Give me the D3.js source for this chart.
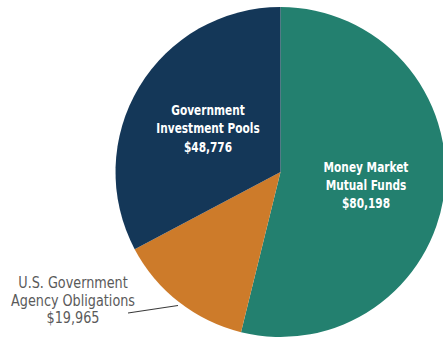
<!DOCTYPE html>
<html>
<head>
<meta charset="utf-8">
<script src="https://cdn.jsdelivr.net/npm/d3@7"></script>
<style>
  html, body { margin: 0; padding: 0; background: #fff; overflow: hidden; }
  svg { display: block; }
</style>
</head>
<body>
<svg id="chart" width="443" height="339"></svg>
<script>
// Holdings by category (in thousands of dollars)
const categories = ["Money Market Mutual Funds", "U.S. Government Agency Obligations", "Government Investment Pools"];
const values = [80198, 19965, 48776];
const colors = ["#23806f", "#cd7b2a", "#143758"];
const labelLines = [
  ["Money Market", "Mutual Funds", "$80,198"],
  ["U.S. Government", "Agency Obligations", "$19,965"],
  ["Government", "Investment Pools", "$48,776"]
];

const svg = d3.select("#chart");
const cx = 280.5, cy = 172, r = 165;

const data = categories.map((c, i) => ({ name: c, value: values[i], color: colors[i], lines: labelLines[i] }));

const pie = d3.pie().value(d => d.value).sort(null);
const arc = d3.arc().innerRadius(0).outerRadius(r);
const arcs = pie(data);

const g = svg.append("g").attr("transform", `translate(${cx},${cy})`);

g.selectAll("path.slice")
  .data(arcs)
  .join("path")
  .attr("class", "slice")
  .attr("d", arc)
  .attr("fill", d => d.data.color);

// multi-line label, horizontally condensed
function label(lines, x, y, opts) {
  const t = svg.append("text")
    .attr("transform", `translate(${x},${y}) scale(${opts.sx},1)`)
    .attr("text-anchor", "middle")
    .attr("fill", opts.fill)
    .attr("font-family", "'DejaVu Sans Condensed', 'DejaVu Sans', sans-serif")
    .attr("font-weight", opts.weight)
    .attr("font-size", opts.size);
  lines.forEach((ln, k) => {
    t.append("tspan").attr("x", 0).attr("y", k * opts.lh).text(ln);
  });
}

// inside labels (white, bold)
label(arcs[0].data.lines, 366, 171.5, { sx: 0.84, fill: "#ffffff", weight: "bold", size: 14, lh: 18.2 });
label(arcs[2].data.lines, 208, 115.3, { sx: 0.84, fill: "#ffffff", weight: "bold", size: 14, lh: 18.2 });

// outside label with leader line for the small slice
svg.append("line")
  .attr("x1", 128).attr("y1", 313)
  .attr("x2", 178).attr("y2", 305.5)
  .attr("stroke", "#3a3a3a")
  .attr("stroke-width", 1.2);

label(arcs[1].data.lines, 73, 288.3, { sx: 0.89, fill: "#5a5a5a", weight: "normal", size: 16, lh: 17.5 });
</script>
</body>
</html>
